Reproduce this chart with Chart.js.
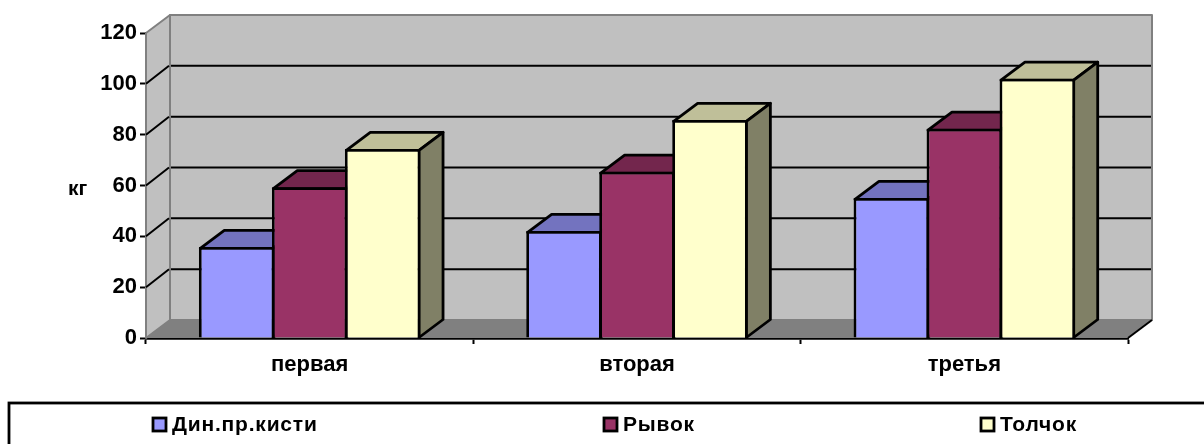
<!DOCTYPE html>
<html>
<head>
<meta charset="utf-8">
<script src="https://cdn.jsdelivr.net/npm/chart.js@4"></script>
<style>
  html, body { margin: 0; padding: 0; background: #fff; }
  canvas { display: block; }
</style>
</head>
<body>
<canvas id="chart" width="1204" height="444"></canvas>
<script>
const categories = ['первая', 'вторая', 'третья'];
const dinValues = [35.8, 42.1, 55.1];
const ryvokValues = [59.3, 65.4, 82.3];
const tolchokValues = [74.4, 85.8, 102];
const yTicks = [0, 20, 40, 60, 80, 100, 120];

const FONT = '"Liberation Sans", Arial, sans-serif';
const DX = 24, DY = -18;
const LINE = 2.8;

function poly(ctx, pts, fill, stroke, width) {
  ctx.beginPath();
  pts.forEach((p, i) => i ? ctx.lineTo(p[0], p[1]) : ctx.moveTo(p[0], p[1]));
  ctx.closePath();
  if (fill) { ctx.fillStyle = fill; ctx.fill(); }
  if (stroke) { ctx.strokeStyle = stroke; ctx.lineWidth = width; ctx.stroke(); }
}

// Walls, floor, gridlines and the top/side faces of the bars
const box3d = {
  id: 'box3d',
  beforeDatasetsDraw(chart) {
    const ctx = chart.ctx, a = chart.chartArea, y = chart.scales.y;
    ctx.save();
    ctx.lineJoin = 'round';
    poly(ctx, [[a.left + DX, a.top + DY], [a.right + DX, a.top + DY], [a.right + DX, a.bottom + DY], [a.left + DX, a.bottom + DY]], '#c0c0c0', '#808080', 2);
    poly(ctx, [[a.left, a.top], [a.left + DX, a.top + DY], [a.left + DX, a.bottom + DY], [a.left, a.bottom]], '#c0c0c0', '#808080', 2);
    poly(ctx, [[a.left, a.bottom], [a.left + DX, a.bottom + DY], [a.right + DX, a.bottom + DY], [a.right, a.bottom]], '#808080');

    ctx.strokeStyle = '#000';
    ctx.lineWidth = 2;
    yTicks.forEach(t => {
      if (t === 0 || t === 120) return;
      const py = y.getPixelForValue(t);
      ctx.beginPath();
      ctx.moveTo(a.left, py);
      ctx.lineTo(a.left + DX - 1, py + DY);
      ctx.moveTo(a.left + DX + 1, py + DY);
      ctx.lineTo(a.right + DX - 1, py + DY);
      ctx.stroke();
    });
    ctx.beginPath();
    ctx.moveTo(a.right, a.bottom);
    ctx.lineTo(a.right + DX, a.bottom + DY);
    ctx.stroke();

    // depth faces run along the centre of the bar outline
    const inset = LINE / 2;
    chart.data.datasets.forEach((ds, i) => {
      chart.getDatasetMeta(i).data.forEach(bar => {
        const l = bar.x - bar.width / 2 + inset, r = bar.x + bar.width / 2 - inset, t = bar.y + inset, b = bar.base;
        poly(ctx, [[l, t], [l + DX, t + DY], [r + DX, t + DY], [r, t]], ds.topColor, '#000', LINE);
        poly(ctx, [[r, t], [r + DX, t + DY], [r + DX, b + DY], [r, b]], ds.sideColor, '#000', LINE);
      });
    });
    ctx.restore();
  },
  // Axis title and the boxed legend
  afterDraw(chart) {
    const ctx = chart.ctx;
    ctx.save();
    ctx.fillStyle = '#000';
    ctx.textBaseline = 'middle';
    ctx.font = 'bold 21px ' + FONT;
    ctx.textAlign = 'left';
    ctx.fillText('кг', 68, 189);

    ctx.strokeStyle = '#000';
    ctx.lineWidth = LINE;
    ctx.strokeRect(9, 403, 1300, 60);

    const boxX = [153, 604, 981];
    ctx.font = 'bold 21px ' + FONT;
    ctx.letterSpacing = '0.8px';
    chart.data.datasets.forEach((ds, i) => {
      ctx.fillStyle = ds.backgroundColor;
      ctx.fillRect(boxX[i], 418, 13, 13);
      ctx.strokeRect(boxX[i], 418, 13, 13);
      ctx.fillStyle = '#000';
      ctx.fillText(ds.label, boxX[i] + 19, 425);
    });
    ctx.restore();
  }
};

new Chart(document.getElementById('chart'), {
  type: 'bar',
  data: {
    labels: categories,
    datasets: [
      { label: 'Дин.пр.кисти', data: dinValues, backgroundColor: '#9999ff', topColor: '#7373bf', sideColor: '#4d4d80' },
      { label: 'Рывок', data: ryvokValues, backgroundColor: '#993366', topColor: '#73264d', sideColor: '#4d1a33' },
      { label: 'Толчок', data: tolchokValues, backgroundColor: '#ffffcc', topColor: '#bfbf99', sideColor: '#808066' }
    ]
  },
  options: {
    responsive: false,
    animation: false,
    layout: { padding: { top: 33, right: 76, left: 0, bottom: 0 } },
    // bars overlap by one outline so neighbours share a single line
    datasets: { bar: { categoryPercentage: 0.669, barPercentage: 1.035, borderColor: '#000', borderWidth: LINE } },
    plugins: { legend: { display: false }, tooltip: { enabled: false } },
    scales: {
      x: {
        afterFit(s) { s.height = 106; },
        border: { color: '#000', width: LINE },
        grid: { drawOnChartArea: false, tickLength: 6, tickColor: '#000', tickWidth: 2 },
        ticks: { color: '#000', padding: 8, maxRotation: 0, font: { family: FONT, size: 22, weight: 'bold' } }
      },
      y: {
        min: 0,
        max: 120,
        afterFit(s) { s.width = 146; },
        afterBuildTicks(s) { s.ticks = yTicks.map(v => ({ value: v })); },
        border: { color: '#000', width: LINE },
        grid: { drawOnChartArea: false, tickLength: 6, tickColor: '#000', tickWidth: 2 },
        ticks: { color: '#000', padding: 3, font: { family: FONT, size: 22, weight: 'bold' } }
      }
    }
  },
  plugins: [box3d]
});
</script>
</body>
</html>
